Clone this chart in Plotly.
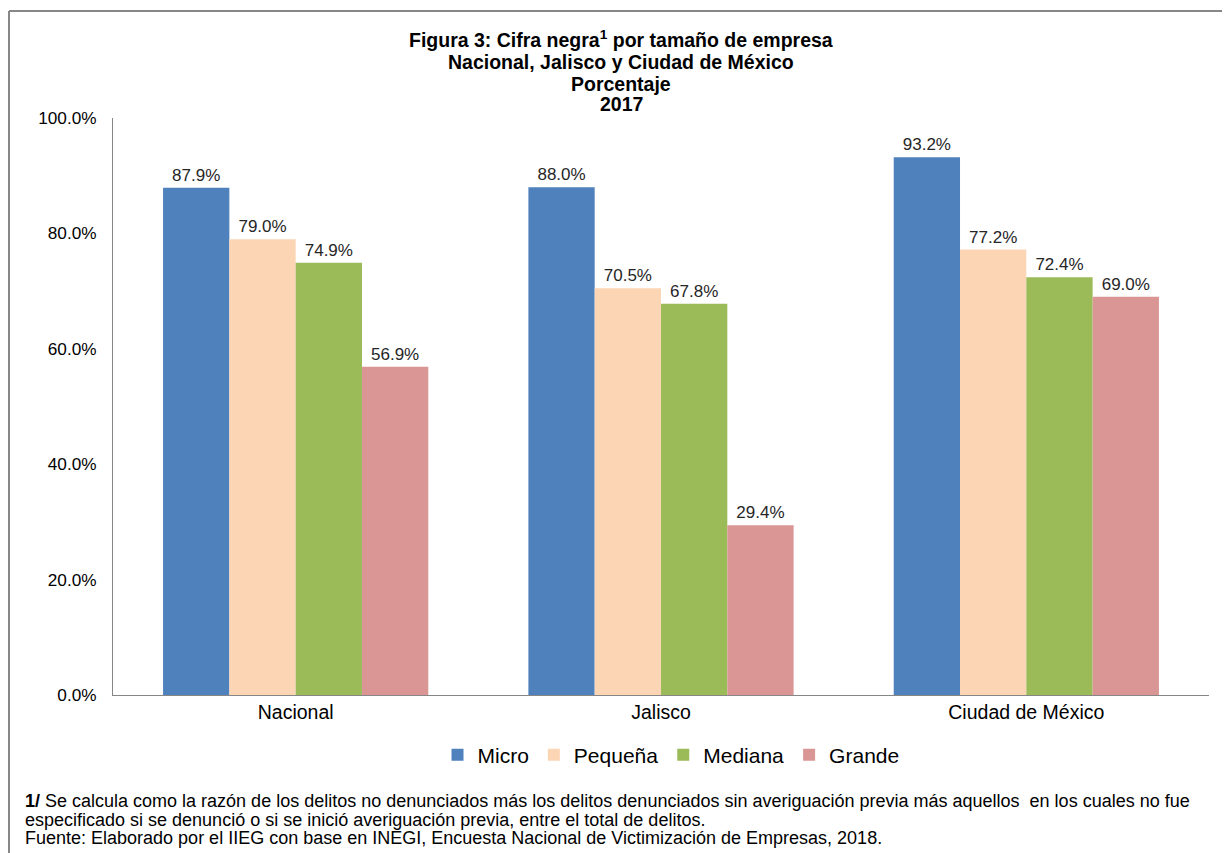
import plotly.graph_objects as go

categories = ["Nacional", "Jalisco", "Ciudad de México"]
series_names = ["Micro", "Pequeña", "Mediana", "Grande"]
micro = [87.9, 88.0, 93.2]
pequena = [79.0, 70.5, 77.2]
mediana = [74.9, 67.8, 72.4]
grande = [56.9, 29.4, 69.0]
y_ticks = [0, 20, 40, 60, 80, 100]
y_tick_labels = ["0.0%", "20.0%", "40.0%", "60.0%", "80.0%", "100.0%"]

colors = ["#4F81BD", "#FCD5B5", "#9BBB59", "#D99694"]
values = [micro, pequena, mediana, grande]

OFF = 8  # page body margin
W, H = 1230 - OFF, 853 - OFF
L, R, T, B = 113 - OFF, 21, 118 - OFF, 158
PW = W - L - R
PH = H - T - B

def px_x(x):
    return (x - OFF - L) / PW

def px_y(y):
    return (H - B - (y - OFF)) / PH

FONT = "Liberation Sans, Arial, sans-serif"

fig = go.Figure()
for name, vals, col in zip(series_names, values, colors):
    fig.add_trace(go.Bar(
        x=categories, y=vals, name=name,
        marker=dict(color=col, line=dict(width=0)),
        text=[f"{v:.1f}%" for v in vals],
        textposition="outside",
        textfont=dict(family=FONT, size=17, color="#262626"),
        cliponaxis=False,
    ))

annotations = []
title_lines = [
    ("<b>Figura 3: Cifra negra<sup>1</sup> por tamaño de empresa</b>", 38.5),
    ("<b>Nacional, Jalisco y Ciudad de México</b>", 62.5),
    ("<b>Porcentaje</b>", 84),
    ("<b>2017</b>", 104.5),
]
for txt, yc in title_lines:
    annotations.append(dict(
        text=txt, x=px_x(621), y=px_y(yc), xref="paper", yref="paper",
        xanchor="center", yanchor="middle", showarrow=False,
        font=dict(family=FONT, size=19.5, color="#000000"),
    ))

footnote_lines = [
    ("<b>1/</b> Se calcula como la razón de los delitos no denunciados más los delitos denunciados sin averiguación previa más aquellos  en los cuales no fue", 801),
    ("especificado si se denunció o si se inició averiguación previa, entre el total de delitos.", 819.5),
    ("Fuente: Elaborado por el IIEG con base en INEGI, Encuesta Nacional de Victimización de Empresas, 2018.", 838),
]
for txt, yc in footnote_lines:
    annotations.append(dict(
        text=txt, x=px_x(23), y=px_y(yc), xref="paper", yref="paper",
        xanchor="left", yanchor="middle", align="left", showarrow=False,
        font=dict(family=FONT, size=18, color="#000000"),
    ))

shapes = [
    dict(type="line", xref="paper", yref="paper", x0=px_x(9), x1=px_x(1250), y0=px_y(11), y1=px_y(11),
         line=dict(color="#878787", width=2)),
    dict(type="line", xref="paper", yref="paper", x0=px_x(9), x1=px_x(9), y0=px_y(11), y1=px_y(870),
         line=dict(color="#878787", width=2)),
]

fig.update_layout(
    width=W, height=H,
    margin=dict(l=L, r=R, t=T, b=B, autoexpand=False),
    paper_bgcolor="white", plot_bgcolor="white",
    barmode="group", bargap=0.274, bargroupgap=0,
    font=dict(family=FONT, color="#000000"),
    showlegend=True,
    legend=dict(orientation="h", x=px_x(671), xanchor="center", y=px_y(755), yanchor="middle",
                font=dict(family=FONT, size=21, color="#000000"), traceorder="normal",
                bgcolor="rgba(0,0,0,0)"),
    annotations=annotations,
    shapes=shapes,
)
fig.update_xaxes(
    showline=True, linecolor="#868686", linewidth=1, ticks="", showgrid=False,
    tickfont=dict(family=FONT, size=19.5, color="#000000"),
)
fig.update_yaxes(
    range=[0, 100], tickvals=y_ticks, ticktext=y_tick_labels,
    showline=True, linecolor="#868686", linewidth=1, ticks="", showgrid=False, zeroline=False,
    tickfont=dict(family=FONT, size=17.2, color="#000000"), ticklabelstandoff=12,
)

fig.write_html("out.html")
